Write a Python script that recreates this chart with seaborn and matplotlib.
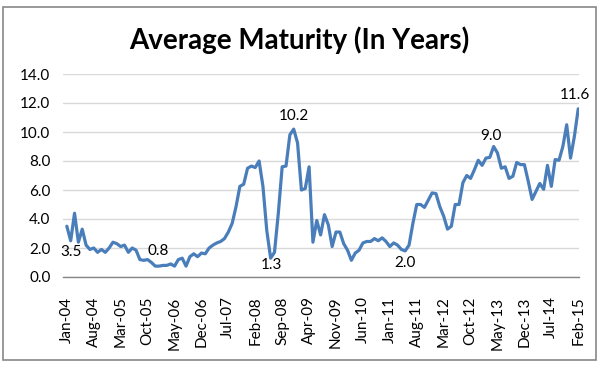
import matplotlib
matplotlib.use("Agg")
import matplotlib.pyplot as plt
import seaborn as sns
import pandas as pd
from matplotlib.patches import Rectangle

# ---- data (monthly, Jan-04 .. Feb-15) ----
values = [
    3.5, 2.5, 4.4, 2.4, 3.3, 2.2, 1.9, 2.0, 1.7, 1.9, 1.7, 2.0, 2.4, 2.3, 2.1, 2.2,
    1.7, 2.0, 1.85, 1.2, 1.15, 1.2, 1.0, 0.75, 0.75, 0.8, 0.8, 0.9, 0.75, 1.2, 1.3,
    0.75, 1.4, 1.6, 1.4,
    1.65, 1.6, 2.0, 2.2, 2.35, 2.45, 2.65, 3.1, 3.7, 4.85, 6.25, 6.4, 7.5, 7.65, 7.55,
    8.0, 6.25, 3.2, 1.3, 1.7, 4.4, 7.6, 7.65, 9.8, 10.2, 9.25, 6.0, 6.1, 7.6, 2.4, 3.9,
    2.9, 4.3, 3.6,
    2.1, 3.1, 3.1, 2.3, 1.85, 1.15, 1.65, 1.85, 2.35, 2.45, 2.45, 2.65, 2.5, 2.7, 2.45,
    2.1, 2.35, 2.2, 1.9, 1.8, 2.2, 3.7, 5.0, 5.0, 4.8, 5.3, 5.8, 5.75, 4.85, 4.2, 3.3,
    3.5, 5.0, 5.0,
    6.5, 7.0, 6.8, 7.4, 8.05, 7.7, 8.2, 8.25, 9.0, 8.55, 7.5, 7.6, 6.8, 6.95, 7.9, 7.75,
    7.75, 6.6, 5.35, 5.9, 6.45, 6.05, 7.7, 6.25, 8.1, 8.05, 9.0, 10.5, 8.2, 9.7, 11.6,
]
tick_labels = ["Jan-04", "Aug-04", "Mar-05", "Oct-05", "May-06", "Dec-06", "Jul-07",
               "Feb-08", "Sep-08", "Apr-09", "Nov-09", "Jun-10", "Jan-11", "Aug-11",
               "Mar-12", "Oct-12", "May-13", "Dec-13", "Jul-14", "Feb-15"]
label_idx = [0, 25, 53, 59, 88, 111, 133]
label_text = ["3.5", "0.8", "1.3", "10.2", "2.0", "9.0", "11.6"]
label_offsets = [(4, -26), (-5, 14), (1, -7), (0, 13), (0, -12), (-3, 10), (-3, 14)]
y_ticks = [0, 2, 4, 6, 8, 10, 12, 14]

df = pd.DataFrame({"month": range(len(values)), "value": values})

sns.set_theme(style="white")
plt.rcParams["font.family"] = ["Lato", "DejaVu Sans"]

W, H = 600, 366
fig = plt.figure(figsize=(6.0, 3.66), dpi=100)
ax = fig.add_axes([63 / W, 1 - 277 / H, (579 - 63) / W, (277 - 74) / H])

sns.lineplot(data=df, x="month", y="value", ax=ax, color="#4A7EBB", linewidth=2.3)

ax.set_xlim(-1, 133.2)
ax.set_ylim(0, 14)
ax.set_yticks(y_ticks)
ax.set_yticklabels([f"{v:.1f}" for v in y_ticks], fontsize=11, color="#000000")
ax.set_xticks(list(range(0, len(values), 7)))
ax.set_xticklabels(tick_labels, rotation=90, fontsize=11, color="#000000",
                   va="top", ha="center")
ax.tick_params(axis="x", length=0, pad=14)
ax.tick_params(axis="y", length=0, pad=9)
ax.set_xlabel("")
ax.set_ylabel("")
ax.grid(axis="y", color="#D9D9D9", linewidth=1)
ax.grid(axis="x", visible=False)
for s in ["top", "right", "left"]:
    ax.spines[s].set_visible(False)
ax.spines["bottom"].set_color("#868686")
ax.spines["bottom"].set_linewidth(1)

for i, t, off in zip(label_idx, label_text, label_offsets):
    ax.annotate(t, xy=(i, values[i]), xytext=off, textcoords="offset pixels",
                ha="center", va="center", fontsize=11, color="#000000")

fig.text(299 / W, 1 - 40 / H, "Average Maturity (In Years)", ha="center", va="center",
         fontsize=20, fontweight="bold", color="#000000")

fig.patches.append(Rectangle((3 / W, 1 - 360 / H), (596 - 3) / W, (360 - 7) / H,
                             transform=fig.transFigure, fill=False,
                             edgecolor="#888888", linewidth=1.2))

fig.savefig("out.png", dpi=100)
